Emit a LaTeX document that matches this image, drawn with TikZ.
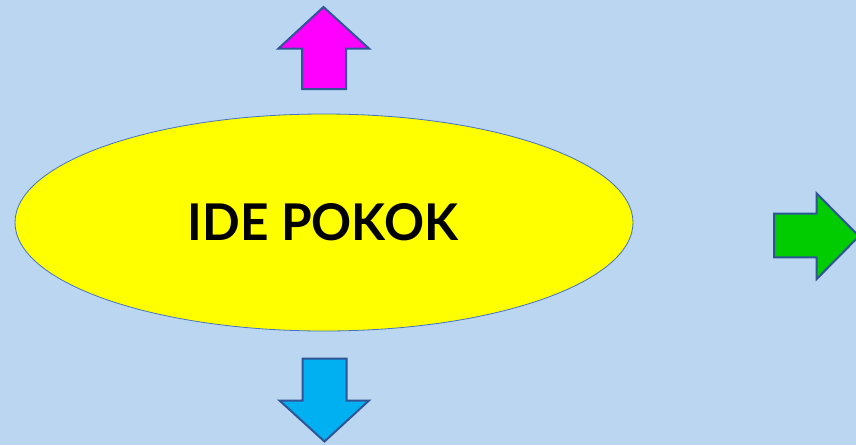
\documentclass[tikz,border=0pt]{standalone}
\usepackage{fontspec}
\setmainfont{Lato}
\usetikzlibrary{shapes.geometric}
\definecolor{bgblue}{RGB}{186,214,240}
\definecolor{edgeblue}{RGB}{68,114,196}
\definecolor{arrowedge}{RGB}{47,85,151}
\definecolor{ideayellow}{RGB}{255,255,0}
\definecolor{magentafill}{RGB}{255,0,255}
\definecolor{cyanfill}{RGB}{0,176,240}
\definecolor{greenfill}{RGB}{0,204,0}
\tikzset{
  bigarrow/.style={draw=arrowedge, line width=2pt, line join=miter},
  idea/.style={ellipse, draw=edgeblue, line width=0.8pt, fill=ideayellow, minimum width=618pt, minimum height=217pt, inner sep=0pt}
}
\begin{document}
\begin{tikzpicture}[x=1pt,y=-1pt]
\fill[bgblue] (0,0) rectangle (856,445);
\useasboundingbox (0,0) rectangle (856,445);
\node[idea] (ide) at (324,222.5) {};
\node (label) at (323,222) {\resizebox{270pt}{37pt}{\bfseries IDE POKOK}};
% magenta up arrow
\draw[bigarrow, fill=magentafill] (323.5,7) -- (369,48.5) -- (346,48.5) -- (346,89) -- (302,89) -- (302,48.5) -- (278.5,48.5) -- cycle;
% blue down arrow
\draw[bigarrow, fill=cyanfill] (324.5,441.5) -- (369,400.5) -- (346.5,400.5) -- (346.5,358.5) -- (302.5,358.5) -- (302.5,400.5) -- (279.5,400.5) -- cycle;
% green right arrow
\draw[bigarrow, fill=greenfill] (859,236.2) -- (816.7,193.5) -- (816.7,213.5) -- (774,213.5) -- (774,257.3) -- (816.7,257.3) -- (816.7,279) -- cycle;
\end{tikzpicture}
\end{document}
